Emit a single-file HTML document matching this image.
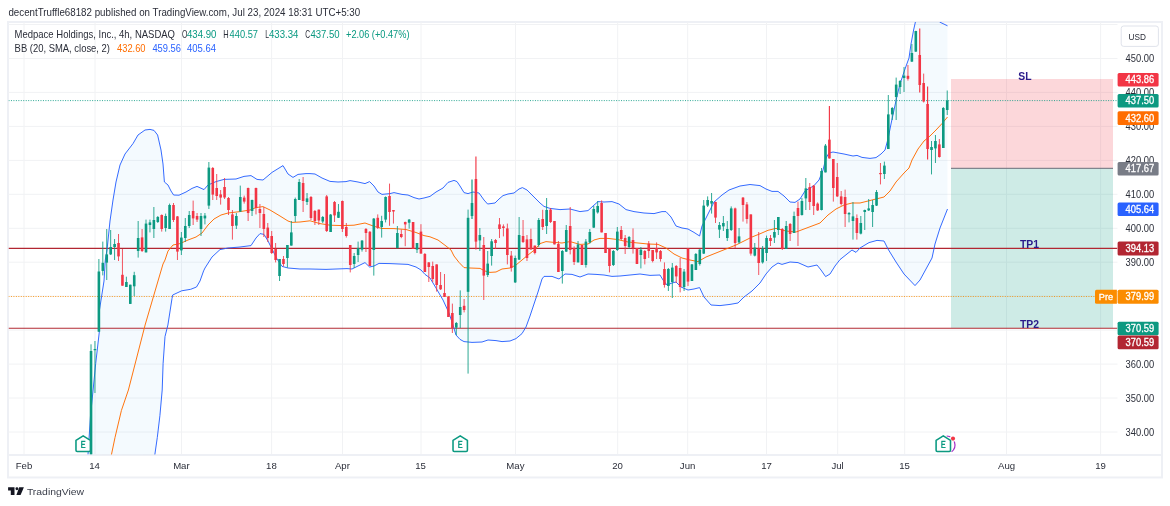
<!DOCTYPE html><html><head><meta charset="utf-8"><title>chart</title><style>
html,body{margin:0;padding:0;background:#fff;}body{width:1170px;height:506px;overflow:hidden;position:relative;font-family:"Liberation Sans",sans-serif;}svg{position:absolute;left:0;top:0;display:block;will-change:transform;}text{font-family:"Liberation Sans",sans-serif;}
</style></head><body>
<svg width="1170" height="506" viewBox="0 0 1170 506">
<defs><filter id="soft" x="0" y="0" width="100%" height="100%" filterUnits="objectBoundingBox"><feGaussianBlur stdDeviation="0.4"/></filter><clipPath id="pane"><rect x="8.5" y="22" width="1109" height="432.5"/></clipPath></defs>
<g filter="url(#soft)"><rect x="0" y="0" width="1170" height="506" fill="#fff"/>
<rect x="8" y="22" width="1154" height="455.45" fill="#fff" stroke="#eef0f5" stroke-width="2"/>
<line x1="24" y1="22" x2="24" y2="454.5" stroke="#f1f2f4" stroke-width="1"/>
<line x1="95" y1="22" x2="95" y2="454.5" stroke="#f1f2f4" stroke-width="1"/>
<line x1="181.5" y1="22" x2="181.5" y2="454.5" stroke="#f1f2f4" stroke-width="1"/>
<line x1="271.6" y1="22" x2="271.6" y2="454.5" stroke="#f1f2f4" stroke-width="1"/>
<line x1="342.5" y1="22" x2="342.5" y2="454.5" stroke="#f1f2f4" stroke-width="1"/>
<line x1="421" y1="22" x2="421" y2="454.5" stroke="#f1f2f4" stroke-width="1"/>
<line x1="515.5" y1="22" x2="515.5" y2="454.5" stroke="#f1f2f4" stroke-width="1"/>
<line x1="617.7" y1="22" x2="617.7" y2="454.5" stroke="#f1f2f4" stroke-width="1"/>
<line x1="687.7" y1="22" x2="687.7" y2="454.5" stroke="#f1f2f4" stroke-width="1"/>
<line x1="766.5" y1="22" x2="766.5" y2="454.5" stroke="#f1f2f4" stroke-width="1"/>
<line x1="837.7" y1="22" x2="837.7" y2="454.5" stroke="#f1f2f4" stroke-width="1"/>
<line x1="904.7" y1="22" x2="904.7" y2="454.5" stroke="#f1f2f4" stroke-width="1"/>
<line x1="1006.5" y1="22" x2="1006.5" y2="454.5" stroke="#f1f2f4" stroke-width="1"/>
<line x1="1100.6" y1="22" x2="1100.6" y2="454.5" stroke="#f1f2f4" stroke-width="1"/>
<line x1="8.5" y1="24.55" x2="1117.5" y2="24.55" stroke="#f1f2f4" stroke-width="1"/>
<line x1="8.5" y1="58.5" x2="1117.5" y2="58.5" stroke="#f1f2f4" stroke-width="1"/>
<line x1="8.5" y1="92.4" x2="1117.5" y2="92.4" stroke="#f1f2f4" stroke-width="1"/>
<line x1="8.5" y1="126.4" x2="1117.5" y2="126.4" stroke="#f1f2f4" stroke-width="1"/>
<line x1="8.5" y1="160.4" x2="1117.5" y2="160.4" stroke="#f1f2f4" stroke-width="1"/>
<line x1="8.5" y1="194.3" x2="1117.5" y2="194.3" stroke="#f1f2f4" stroke-width="1"/>
<line x1="8.5" y1="228.3" x2="1117.5" y2="228.3" stroke="#f1f2f4" stroke-width="1"/>
<line x1="8.5" y1="262.2" x2="1117.5" y2="262.2" stroke="#f1f2f4" stroke-width="1"/>
<line x1="8.5" y1="296.2" x2="1117.5" y2="296.2" stroke="#f1f2f4" stroke-width="1"/>
<line x1="8.5" y1="330.1" x2="1117.5" y2="330.1" stroke="#f1f2f4" stroke-width="1"/>
<line x1="8.5" y1="364.1" x2="1117.5" y2="364.1" stroke="#f1f2f4" stroke-width="1"/>
<line x1="8.5" y1="398" x2="1117.5" y2="398" stroke="#f1f2f4" stroke-width="1"/>
<line x1="8.5" y1="432" x2="1117.5" y2="432" stroke="#f1f2f4" stroke-width="1"/>
<line x1="9" y1="455.05" x2="1161" y2="455.05" stroke="#eef0f5" stroke-width="2.1"/>
<g clip-path="url(#pane)">
<polygon fill="#2196f3" fill-opacity="0.05" points="88,454.5 90.5,415.7 93.1,390 95.7,363.5 99.3,332 99.3,311 104,281 105.3,260 107,250 110,221 113,200 116,182 120,165 125,154 133,143.6 138,135 145,130 150,129.4 154,130.4 157.6,135 161,150 163,164 164.4,182 168,185 171,191 173.6,195 179,195.2 186,192 192,188.4 197,186.4 204,189.6 208,185 216,181.6 224,179.4 236,179 244,176.4 251,175.6 257,179.4 263,180 272,172.4 283,165.6 288,174 293,177.4 298,174.4 306,173.6 310,173.6 315,174 322,178 330,181.4 338,182 346,181.6 350,180.6 358,182 365,183.6 369.6,181.6 374,186 378,192 382,194.4 390,193.6 394,192.6 402,194.4 408,195 414,197.6 419,199 424,198 430,196.4 436,192 443,188 448,182.4 454,180.4 457,181.6 460,186 464,192.6 468,193.6 473,192 479,193 484,200 487.6,204 495,203 499,199 503,195.6 508,194 514,193 519,189 522.4,187.6 527,190 532,195 537,200 540,203 544,206.4 550,208.4 560,209.6 570,209 580,211.6 588,210.6 593,206 598,201.6 604,202 612,201.6 619,204 626,209.6 634,211.6 644,213 654,213.6 662,211.6 666,211.6 671,217 676,226 682,228 688,229 694,232.4 699.6,236 702,226 708,214 714,202 722,195 729,190 740,186 750,184.5 760,185.6 766,189 772,191.4 778,191.4 784,196 790,202 795,202.4 800,199 805,191 814,185.6 819,180 823,170 826,158 829,153 833,152 844,154 853,156 857,155.4 862,157.4 870,158.4 876,157.6 881,154 885,150 888,139 891,124 894,110 897,96 900,84 903,75 905,69 909,58 911,44 913.6,30 915.4,22 920,10 930,8 939.6,22 947.5,25.8 947.5,209 940,228 935,244 932,258 926,269 920,280 915,285.6 904,274 896,262 888,249 884,241 877,240.4 869,242.6 860,248 856,252.4 852,250 847,254 840,259.6 835,266 830,274 825.6,276.6 821,270 817,265 808,267 798,262.6 790,262 782,264.4 778,263 772,267 766,274 760,283 752,291 744,297 738,303 730,304.4 720,305.6 711,305 704,297 699.6,287.6 694,289 688,290 681,287 676,282 672,283 667,285 663,280 660,275 650,275.4 640,274 630,275 620,276 612,276.4 604,275 596,274.4 588,274 580,277 572,274.4 565,274 559,279 552,276.4 544,276.4 542,279 538,292 534,304 530,316 526,327 522,333.6 516,338.6 510,341 502,341.6 496,340.6 488,340 482,342 472,342.4 464,341.6 460,339.4 456,335 453,325 449,313 443,300 436,288 430,278 425,274.4 421,270 416,267 408,264.4 390,263.6 379,263.4 374,266 369.6,267 365,262.6 358,266 352,269 347,268.6 326,269.4 310,269 300,269 288,268 282,266.4 277,259 272,249 268,241 264,234.4 260,233.6 256,238 251,245.6 240,247 228,248 220,249.6 212,257 205,268 203.6,270.9 200,281 196.5,287 190.7,289.3 181.7,290.8 172.7,295 172,298.5 167.9,325 165,336.6 163.1,363.5 162.2,390 159.9,415.7 157.3,437.5 154.8,454.9"/>
<rect x="951" y="79" width="162" height="89.3" fill="#f23645" fill-opacity="0.2"/>
<rect x="951" y="168.3" width="162" height="159.8" fill="#089981" fill-opacity="0.2"/>
<line x1="951" y1="168.3" x2="1113" y2="168.3" stroke="#6a6d78" stroke-width="1"/>
<line x1="8.5" y1="248.4" x2="1117.5" y2="248.4" stroke="#b22833" stroke-width="1.1"/>
<line x1="8.5" y1="328.2" x2="1117.5" y2="328.2" stroke="#b22833" stroke-width="1.1"/>
<line x1="8.5" y1="100.6" x2="1117.5" y2="100.6" stroke="#089981" stroke-opacity="0.85" stroke-width="1" stroke-dasharray="1 1.46"/>
<line x1="8.5" y1="296.5" x2="1095" y2="296.5" stroke="#fb8c00" stroke-opacity="0.85" stroke-width="1" stroke-dasharray="1 1.46"/>
<polyline fill="none" stroke="#2962ff" stroke-width="0.95" stroke-linejoin="round" points="88,454.5 90.5,415.7 93.1,390 95.7,363.5 99.3,332 99.3,311 104,281 105.3,260 107,250 110,221 113,200 116,182 120,165 125,154 133,143.6 138,135 145,130 150,129.4 154,130.4 157.6,135 161,150 163,164 164.4,182 168,185 171,191 173.6,195 179,195.2 186,192 192,188.4 197,186.4 204,189.6 208,185 216,181.6 224,179.4 236,179 244,176.4 251,175.6 257,179.4 263,180 272,172.4 283,165.6 288,174 293,177.4 298,174.4 306,173.6 310,173.6 315,174 322,178 330,181.4 338,182 346,181.6 350,180.6 358,182 365,183.6 369.6,181.6 374,186 378,192 382,194.4 390,193.6 394,192.6 402,194.4 408,195 414,197.6 419,199 424,198 430,196.4 436,192 443,188 448,182.4 454,180.4 457,181.6 460,186 464,192.6 468,193.6 473,192 479,193 484,200 487.6,204 495,203 499,199 503,195.6 508,194 514,193 519,189 522.4,187.6 527,190 532,195 537,200 540,203 544,206.4 550,208.4 560,209.6 570,209 580,211.6 588,210.6 593,206 598,201.6 604,202 612,201.6 619,204 626,209.6 634,211.6 644,213 654,213.6 662,211.6 666,211.6 671,217 676,226 682,228 688,229 694,232.4 699.6,236 702,226 708,214 714,202 722,195 729,190 740,186 750,184.5 760,185.6 766,189 772,191.4 778,191.4 784,196 790,202 795,202.4 800,199 805,191 814,185.6 819,180 823,170 826,158 829,153 833,152 844,154 853,156 857,155.4 862,157.4 870,158.4 876,157.6 881,154 885,150 888,139 891,124 894,110 897,96 900,84 903,75 905,69 909,58 911,44 913.6,30 915.4,22 920,10 930,8 939.6,22 947.5,25.8"/>
<polyline fill="none" stroke="#2962ff" stroke-width="0.95" stroke-linejoin="round" points="154.8,454.9 157.3,437.5 159.9,415.7 162.2,390 163.1,363.5 165,336.6 167.9,325 172,298.5 172.7,295 181.7,290.8 190.7,289.3 196.5,287 200,281 203.6,270.9 205,268 212,257 220,249.6 228,248 240,247 251,245.6 256,238 260,233.6 264,234.4 268,241 272,249 277,259 282,266.4 288,268 300,269 310,269 326,269.4 347,268.6 352,269 358,266 365,262.6 369.6,267 374,266 379,263.4 390,263.6 408,264.4 416,267 421,270 425,274.4 430,278 436,288 443,300 449,313 453,325 456,335 460,339.4 464,341.6 472,342.4 482,342 488,340 496,340.6 502,341.6 510,341 516,338.6 522,333.6 526,327 530,316 534,304 538,292 542,279 544,276.4 552,276.4 559,279 565,274 572,274.4 580,277 588,274 596,274.4 604,275 612,276.4 620,276 630,275 640,274 650,275.4 660,275 663,280 667,285 672,283 676,282 681,287 688,290 694,289 699.6,287.6 704,297 711,305 720,305.6 730,304.4 738,303 744,297 752,291 760,283 766,274 772,267 778,263 782,264.4 790,262 798,262.6 808,267 817,265 821,270 825.6,276.6 830,274 835,266 840,259.6 847,254 852,250 856,252.4 860,248 869,242.6 877,240.4 884,241 888,249 896,262 904,274 915,285.6 920,280 926,269 932,258 935,244 940,228 947.5,209"/>
<polyline fill="none" stroke="#ff6d00" stroke-width="0.95" stroke-linejoin="round" points="111.4,454.9 115,437.5 121.4,410.5 128.4,390 145.1,325 158,281 163,264 165,260 168,251 173,245 180,243.6 188,240 196,237 202,233 208,225 214,219 221,215 228,213 240,211.6 250,210 256,207.6 263,206.6 270,210 280,216 288,221 292,222.4 300,222 310,220.8 320,223.6 330,225.2 342,225.6 354,225.2 365,223 374,226.3 382,228.5 394,228.6 406,229.5 416,232.5 424,235.6 430,236.8 438,240 446,246 451,250 454,256 459,262.4 464,267.6 470,268 480,268.4 485,271 490,272.4 496,272 502,269 510,268 516,265 522,260 528,255 535,249.5 540,243.6 546,241.6 554,242.4 562,243 570,241.6 580,244.4 588,244 594,240 600,238.4 608,238.4 618,239.6 628,242 638,243 648,244 658,244.4 666,248 674,254 682,258 690,260 698,261.6 706,257 716,253 726,249 736,245 744,241 752,237 760,233.8 768,230.3 776,228.4 786,231 796,232 804,229 812,226 820,223 828,215 836,209 844,205 852,203 860,203 868,201 876,199 884,197 890,191 896,182 904,173 909,168 912,160 918,149 924,141 930,136 936,130 942,123.6 947.5,117"/>
<line x1="91.03" y1="344.3" x2="91.03" y2="454.5" stroke="#089981" stroke-width="0.85"/>
<rect x="89.73" y="351.0" width="2.6" height="103.5" fill="#089981"/>
<line x1="94.96" y1="341.0" x2="94.96" y2="393.0" stroke="#089981" stroke-width="0.85"/>
<rect x="93.66" y="349.0" width="2.6" height="1.2" fill="#089981"/>
<line x1="98.89" y1="259.0" x2="98.89" y2="331.7" stroke="#089981" stroke-width="0.85"/>
<rect x="97.59" y="271.5" width="2.6" height="60.2" fill="#089981"/>
<line x1="102.81" y1="241.6" x2="102.81" y2="275.4" stroke="#089981" stroke-width="0.85"/>
<rect x="101.51" y="262.8" width="2.6" height="8.1" fill="#089981"/>
<line x1="106.74" y1="229.0" x2="106.74" y2="280.0" stroke="#089981" stroke-width="0.85"/>
<rect x="105.44" y="254.4" width="2.6" height="8.2" fill="#089981"/>
<line x1="110.67" y1="230.0" x2="110.67" y2="255.0" stroke="#089981" stroke-width="0.85"/>
<rect x="109.37" y="247.0" width="2.6" height="7.4" fill="#089981"/>
<line x1="114.59" y1="239.0" x2="114.59" y2="260.0" stroke="#089981" stroke-width="0.85"/>
<rect x="113.30" y="244.0" width="2.6" height="3.0" fill="#089981"/>
<line x1="118.52" y1="234.0" x2="118.52" y2="261.0" stroke="#f23645" stroke-width="0.85"/>
<rect x="117.22" y="243.0" width="2.6" height="13.4" fill="#f23645"/>
<line x1="122.45" y1="249.0" x2="122.45" y2="285.7" stroke="#f23645" stroke-width="0.85"/>
<rect x="121.15" y="274.8" width="2.6" height="10.9" fill="#f23645"/>
<line x1="126.38" y1="276.7" x2="126.38" y2="287.0" stroke="#089981" stroke-width="0.85"/>
<rect x="125.08" y="282.0" width="2.6" height="5.0" fill="#089981"/>
<line x1="130.31" y1="284.7" x2="130.31" y2="303.9" stroke="#089981" stroke-width="0.85"/>
<rect x="129.00" y="284.7" width="2.6" height="19.2" fill="#089981"/>
<line x1="134.23" y1="271.8" x2="134.23" y2="296.0" stroke="#089981" stroke-width="0.85"/>
<rect x="132.93" y="275.2" width="2.6" height="11.1" fill="#089981"/>
<line x1="138.16" y1="221.0" x2="138.16" y2="257.6" stroke="#089981" stroke-width="0.85"/>
<rect x="136.86" y="238.0" width="2.6" height="13.0" fill="#089981"/>
<line x1="142.09" y1="229.0" x2="142.09" y2="252.0" stroke="#f23645" stroke-width="0.85"/>
<rect x="140.79" y="237.4" width="2.6" height="13.6" fill="#f23645"/>
<line x1="146.01" y1="219.6" x2="146.01" y2="252.4" stroke="#089981" stroke-width="0.85"/>
<rect x="144.71" y="223.6" width="2.6" height="28.8" fill="#089981"/>
<line x1="149.94" y1="219.6" x2="149.94" y2="232.4" stroke="#089981" stroke-width="0.85"/>
<rect x="148.64" y="222.4" width="2.6" height="2.6" fill="#089981"/>
<line x1="153.87" y1="207.0" x2="153.87" y2="238.0" stroke="#089981" stroke-width="0.85"/>
<rect x="152.57" y="220.0" width="2.6" height="9.0" fill="#089981"/>
<line x1="157.80" y1="216.0" x2="157.80" y2="223.0" stroke="#089981" stroke-width="0.85"/>
<rect x="156.50" y="217.0" width="2.6" height="5.0" fill="#089981"/>
<line x1="161.73" y1="214.4" x2="161.73" y2="231.6" stroke="#f23645" stroke-width="0.85"/>
<rect x="160.43" y="215.0" width="2.6" height="14.0" fill="#f23645"/>
<line x1="165.65" y1="213.6" x2="165.65" y2="231.6" stroke="#089981" stroke-width="0.85"/>
<rect x="164.35" y="216.0" width="2.6" height="12.0" fill="#089981"/>
<line x1="169.58" y1="203.6" x2="169.58" y2="229.0" stroke="#089981" stroke-width="0.85"/>
<rect x="168.28" y="205.0" width="2.6" height="24.0" fill="#089981"/>
<line x1="173.51" y1="203.0" x2="173.51" y2="222.0" stroke="#f23645" stroke-width="0.85"/>
<rect x="172.21" y="205.0" width="2.6" height="15.0" fill="#f23645"/>
<line x1="177.44" y1="216.0" x2="177.44" y2="260.0" stroke="#f23645" stroke-width="0.85"/>
<rect x="176.13" y="216.4" width="2.6" height="35.2" fill="#f23645"/>
<line x1="181.36" y1="232.0" x2="181.36" y2="255.0" stroke="#089981" stroke-width="0.85"/>
<rect x="180.06" y="237.6" width="2.6" height="12.8" fill="#089981"/>
<line x1="185.29" y1="218.0" x2="185.29" y2="242.0" stroke="#089981" stroke-width="0.85"/>
<rect x="183.99" y="226.0" width="2.6" height="12.0" fill="#089981"/>
<line x1="189.22" y1="211.0" x2="189.22" y2="228.0" stroke="#089981" stroke-width="0.85"/>
<rect x="187.92" y="215.0" width="2.6" height="11.0" fill="#089981"/>
<line x1="193.15" y1="200.6" x2="193.15" y2="225.0" stroke="#f23645" stroke-width="0.85"/>
<rect x="191.84" y="211.0" width="2.6" height="7.4" fill="#f23645"/>
<line x1="197.07" y1="213.0" x2="197.07" y2="222.0" stroke="#f23645" stroke-width="0.85"/>
<rect x="195.77" y="216.0" width="2.6" height="3.6" fill="#f23645"/>
<line x1="201.00" y1="213.0" x2="201.00" y2="236.0" stroke="#089981" stroke-width="0.85"/>
<rect x="199.70" y="216.0" width="2.6" height="13.0" fill="#089981"/>
<line x1="204.93" y1="213.0" x2="204.93" y2="224.4" stroke="#089981" stroke-width="0.85"/>
<rect x="203.63" y="215.6" width="2.6" height="2.8" fill="#089981"/>
<line x1="208.86" y1="162.0" x2="208.86" y2="209.0" stroke="#089981" stroke-width="0.85"/>
<rect x="207.56" y="167.6" width="2.6" height="38.0" fill="#089981"/>
<line x1="212.78" y1="167.0" x2="212.78" y2="200.0" stroke="#f23645" stroke-width="0.85"/>
<rect x="211.48" y="168.0" width="2.6" height="26.6" fill="#f23645"/>
<line x1="216.71" y1="174.0" x2="216.71" y2="200.0" stroke="#f23645" stroke-width="0.85"/>
<rect x="215.41" y="188.0" width="2.6" height="8.0" fill="#f23645"/>
<line x1="220.64" y1="190.0" x2="220.64" y2="204.6" stroke="#f23645" stroke-width="0.85"/>
<rect x="219.34" y="194.4" width="2.6" height="3.2" fill="#f23645"/>
<line x1="224.56" y1="178.0" x2="224.56" y2="199.0" stroke="#f23645" stroke-width="0.85"/>
<rect x="223.26" y="187.0" width="2.6" height="10.5" fill="#f23645"/>
<line x1="228.49" y1="197.0" x2="228.49" y2="215.0" stroke="#f23645" stroke-width="0.85"/>
<rect x="227.19" y="198.0" width="2.6" height="12.0" fill="#f23645"/>
<line x1="232.42" y1="210.0" x2="232.42" y2="239.6" stroke="#f23645" stroke-width="0.85"/>
<rect x="231.12" y="214.4" width="2.6" height="11.6" fill="#f23645"/>
<line x1="236.35" y1="213.0" x2="236.35" y2="229.0" stroke="#089981" stroke-width="0.85"/>
<rect x="235.05" y="216.0" width="2.6" height="9.6" fill="#089981"/>
<line x1="240.28" y1="185.6" x2="240.28" y2="212.0" stroke="#089981" stroke-width="0.85"/>
<rect x="238.97" y="197.0" width="2.6" height="14.6" fill="#089981"/>
<line x1="244.20" y1="195.6" x2="244.20" y2="203.6" stroke="#f23645" stroke-width="0.85"/>
<rect x="242.90" y="197.6" width="2.6" height="4.0" fill="#f23645"/>
<line x1="248.13" y1="187.6" x2="248.13" y2="221.0" stroke="#f23645" stroke-width="0.85"/>
<rect x="246.83" y="188.0" width="2.6" height="25.0" fill="#f23645"/>
<line x1="252.06" y1="199.6" x2="252.06" y2="216.0" stroke="#089981" stroke-width="0.85"/>
<rect x="250.76" y="200.0" width="2.6" height="11.0" fill="#089981"/>
<line x1="255.99" y1="187.6" x2="255.99" y2="214.4" stroke="#f23645" stroke-width="0.85"/>
<rect x="254.69" y="188.0" width="2.6" height="20.0" fill="#f23645"/>
<line x1="259.91" y1="204.0" x2="259.91" y2="228.0" stroke="#f23645" stroke-width="0.85"/>
<rect x="258.61" y="209.0" width="2.6" height="4.0" fill="#f23645"/>
<line x1="263.84" y1="207.0" x2="263.84" y2="237.0" stroke="#f23645" stroke-width="0.85"/>
<rect x="262.54" y="214.0" width="2.6" height="15.0" fill="#f23645"/>
<line x1="267.77" y1="223.0" x2="267.77" y2="242.0" stroke="#f23645" stroke-width="0.85"/>
<rect x="266.47" y="227.6" width="2.6" height="10.4" fill="#f23645"/>
<line x1="271.70" y1="231.0" x2="271.70" y2="254.0" stroke="#f23645" stroke-width="0.85"/>
<rect x="270.40" y="236.0" width="2.6" height="17.0" fill="#f23645"/>
<line x1="275.62" y1="243.0" x2="275.62" y2="262.4" stroke="#f23645" stroke-width="0.85"/>
<rect x="274.32" y="249.0" width="2.6" height="11.0" fill="#f23645"/>
<line x1="279.55" y1="259.0" x2="279.55" y2="281.0" stroke="#089981" stroke-width="0.85"/>
<rect x="278.25" y="259.0" width="2.6" height="17.0" fill="#089981"/>
<line x1="283.48" y1="256.0" x2="283.48" y2="266.4" stroke="#f23645" stroke-width="0.85"/>
<rect x="282.18" y="259.0" width="2.6" height="5.0" fill="#f23645"/>
<line x1="287.40" y1="245.0" x2="287.40" y2="267.6" stroke="#089981" stroke-width="0.85"/>
<rect x="286.10" y="245.0" width="2.6" height="13.0" fill="#089981"/>
<line x1="291.33" y1="221.0" x2="291.33" y2="245.6" stroke="#089981" stroke-width="0.85"/>
<rect x="290.03" y="232.4" width="2.6" height="13.2" fill="#089981"/>
<line x1="295.26" y1="197.6" x2="295.26" y2="222.0" stroke="#089981" stroke-width="0.85"/>
<rect x="293.96" y="199.0" width="2.6" height="17.0" fill="#089981"/>
<line x1="299.19" y1="179.0" x2="299.19" y2="200.0" stroke="#089981" stroke-width="0.85"/>
<rect x="297.89" y="182.0" width="2.6" height="18.0" fill="#089981"/>
<line x1="303.12" y1="177.0" x2="303.12" y2="212.0" stroke="#f23645" stroke-width="0.85"/>
<rect x="301.81" y="183.0" width="2.6" height="18.0" fill="#f23645"/>
<line x1="307.04" y1="193.0" x2="307.04" y2="205.0" stroke="#089981" stroke-width="0.85"/>
<rect x="305.74" y="198.4" width="2.6" height="3.6" fill="#089981"/>
<line x1="310.97" y1="196.0" x2="310.97" y2="220.0" stroke="#f23645" stroke-width="0.85"/>
<rect x="309.67" y="197.0" width="2.6" height="21.0" fill="#f23645"/>
<line x1="314.90" y1="210.0" x2="314.90" y2="225.0" stroke="#f23645" stroke-width="0.85"/>
<rect x="313.60" y="211.0" width="2.6" height="10.0" fill="#f23645"/>
<line x1="318.83" y1="209.6" x2="318.83" y2="225.0" stroke="#f23645" stroke-width="0.85"/>
<rect x="317.53" y="209.6" width="2.6" height="10.9" fill="#f23645"/>
<line x1="322.75" y1="216.0" x2="322.75" y2="223.0" stroke="#089981" stroke-width="0.85"/>
<rect x="321.45" y="217.0" width="2.6" height="4.5" fill="#089981"/>
<line x1="326.68" y1="195.0" x2="326.68" y2="232.0" stroke="#f23645" stroke-width="0.85"/>
<rect x="325.38" y="196.4" width="2.6" height="34.6" fill="#f23645"/>
<line x1="330.61" y1="214.0" x2="330.61" y2="232.0" stroke="#089981" stroke-width="0.85"/>
<rect x="329.31" y="214.6" width="2.6" height="17.4" fill="#089981"/>
<line x1="334.54" y1="201.0" x2="334.54" y2="222.0" stroke="#f23645" stroke-width="0.85"/>
<rect x="333.24" y="202.0" width="2.6" height="13.4" fill="#f23645"/>
<line x1="338.46" y1="204.0" x2="338.46" y2="218.0" stroke="#089981" stroke-width="0.85"/>
<rect x="337.16" y="211.8" width="2.6" height="6.0" fill="#089981"/>
<line x1="342.39" y1="200.5" x2="342.39" y2="232.0" stroke="#f23645" stroke-width="0.85"/>
<rect x="341.09" y="201.0" width="2.6" height="28.0" fill="#f23645"/>
<line x1="346.32" y1="223.0" x2="346.32" y2="237.6" stroke="#f23645" stroke-width="0.85"/>
<rect x="345.02" y="227.0" width="2.6" height="9.0" fill="#f23645"/>
<line x1="350.25" y1="245.0" x2="350.25" y2="272.4" stroke="#f23645" stroke-width="0.85"/>
<rect x="348.94" y="245.0" width="2.6" height="20.0" fill="#f23645"/>
<line x1="354.17" y1="253.0" x2="354.17" y2="268.0" stroke="#089981" stroke-width="0.85"/>
<rect x="352.87" y="256.0" width="2.6" height="8.0" fill="#089981"/>
<line x1="358.10" y1="241.6" x2="358.10" y2="262.0" stroke="#089981" stroke-width="0.85"/>
<rect x="356.80" y="248.0" width="2.6" height="7.0" fill="#089981"/>
<line x1="362.03" y1="240.0" x2="362.03" y2="251.6" stroke="#089981" stroke-width="0.85"/>
<rect x="360.73" y="240.6" width="2.6" height="9.0" fill="#089981"/>
<line x1="365.96" y1="228.0" x2="365.96" y2="252.0" stroke="#f23645" stroke-width="0.85"/>
<rect x="364.66" y="229.0" width="2.6" height="4.0" fill="#f23645"/>
<line x1="369.88" y1="231.0" x2="369.88" y2="266.0" stroke="#f23645" stroke-width="0.85"/>
<rect x="368.58" y="231.8" width="2.6" height="34.2" fill="#f23645"/>
<line x1="373.81" y1="218.0" x2="373.81" y2="275.6" stroke="#089981" stroke-width="0.85"/>
<rect x="372.51" y="218.6" width="2.6" height="31.4" fill="#089981"/>
<line x1="377.74" y1="214.4" x2="377.74" y2="229.0" stroke="#f23645" stroke-width="0.85"/>
<rect x="376.44" y="217.8" width="2.6" height="10.0" fill="#f23645"/>
<line x1="381.66" y1="215.8" x2="381.66" y2="237.6" stroke="#089981" stroke-width="0.85"/>
<rect x="380.36" y="221.0" width="2.6" height="6.0" fill="#089981"/>
<line x1="385.59" y1="196.4" x2="385.59" y2="222.4" stroke="#089981" stroke-width="0.85"/>
<rect x="384.29" y="197.0" width="2.6" height="22.6" fill="#089981"/>
<line x1="389.52" y1="183.6" x2="389.52" y2="225.8" stroke="#f23645" stroke-width="0.85"/>
<rect x="388.22" y="196.0" width="2.6" height="16.0" fill="#f23645"/>
<line x1="393.45" y1="210.0" x2="393.45" y2="223.6" stroke="#f23645" stroke-width="0.85"/>
<rect x="392.15" y="210.0" width="2.6" height="1.5" fill="#f23645"/>
<line x1="397.38" y1="226.0" x2="397.38" y2="248.2" stroke="#089981" stroke-width="0.85"/>
<rect x="396.07" y="233.0" width="2.6" height="15.2" fill="#089981"/>
<line x1="401.30" y1="229.5" x2="401.30" y2="238.2" stroke="#f23645" stroke-width="0.85"/>
<rect x="400.00" y="234.0" width="2.6" height="3.0" fill="#f23645"/>
<line x1="405.23" y1="221.6" x2="405.23" y2="246.2" stroke="#f23645" stroke-width="0.85"/>
<rect x="403.93" y="222.0" width="2.6" height="2.4" fill="#f23645"/>
<line x1="409.16" y1="219.0" x2="409.16" y2="228.7" stroke="#089981" stroke-width="0.85"/>
<rect x="407.86" y="219.6" width="2.6" height="3.1" fill="#089981"/>
<line x1="413.09" y1="222.0" x2="413.09" y2="249.0" stroke="#f23645" stroke-width="0.85"/>
<rect x="411.79" y="222.0" width="2.6" height="27.0" fill="#f23645"/>
<line x1="417.01" y1="243.0" x2="417.01" y2="253.0" stroke="#089981" stroke-width="0.85"/>
<rect x="415.71" y="243.0" width="2.6" height="6.6" fill="#089981"/>
<line x1="420.94" y1="224.2" x2="420.94" y2="253.6" stroke="#f23645" stroke-width="0.85"/>
<rect x="419.64" y="231.6" width="2.6" height="22.0" fill="#f23645"/>
<line x1="424.87" y1="253.0" x2="424.87" y2="272.0" stroke="#f23645" stroke-width="0.85"/>
<rect x="423.57" y="254.0" width="2.6" height="18.0" fill="#f23645"/>
<line x1="428.80" y1="262.0" x2="428.80" y2="282.0" stroke="#f23645" stroke-width="0.85"/>
<rect x="427.50" y="262.4" width="2.6" height="4.6" fill="#f23645"/>
<line x1="432.72" y1="261.6" x2="432.72" y2="282.0" stroke="#f23645" stroke-width="0.85"/>
<rect x="431.42" y="266.0" width="2.6" height="13.0" fill="#f23645"/>
<line x1="436.65" y1="264.4" x2="436.65" y2="291.6" stroke="#f23645" stroke-width="0.85"/>
<rect x="435.35" y="264.4" width="2.6" height="20.6" fill="#f23645"/>
<line x1="440.58" y1="272.0" x2="440.58" y2="290.0" stroke="#f23645" stroke-width="0.85"/>
<rect x="439.28" y="285.0" width="2.6" height="4.3" fill="#f23645"/>
<line x1="444.50" y1="274.0" x2="444.50" y2="297.0" stroke="#f23645" stroke-width="0.85"/>
<rect x="443.20" y="293.0" width="2.6" height="4.0" fill="#f23645"/>
<line x1="448.43" y1="296.0" x2="448.43" y2="317.0" stroke="#f23645" stroke-width="0.85"/>
<rect x="447.13" y="296.7" width="2.6" height="20.3" fill="#f23645"/>
<line x1="452.36" y1="303.6" x2="452.36" y2="333.0" stroke="#f23645" stroke-width="0.85"/>
<rect x="451.06" y="313.0" width="2.6" height="15.0" fill="#f23645"/>
<line x1="456.29" y1="322.0" x2="456.29" y2="335.0" stroke="#089981" stroke-width="0.85"/>
<rect x="454.99" y="323.0" width="2.6" height="4.6" fill="#089981"/>
<line x1="460.22" y1="290.4" x2="460.22" y2="328.0" stroke="#089981" stroke-width="0.85"/>
<rect x="458.92" y="307.0" width="2.6" height="8.0" fill="#089981"/>
<line x1="464.14" y1="299.0" x2="464.14" y2="312.4" stroke="#f23645" stroke-width="0.85"/>
<rect x="462.84" y="305.8" width="2.6" height="4.2" fill="#f23645"/>
<line x1="468.07" y1="209.6" x2="468.07" y2="373.6" stroke="#089981" stroke-width="0.85"/>
<rect x="466.77" y="217.8" width="2.6" height="74.0" fill="#089981"/>
<line x1="472.00" y1="179.6" x2="472.00" y2="219.0" stroke="#089981" stroke-width="1.15"/>
<rect x="470.70" y="203.0" width="2.6" height="13.0" fill="#089981"/>
<line x1="475.93" y1="156.4" x2="475.93" y2="249.4" stroke="#f23645" stroke-width="1.15"/>
<rect x="474.63" y="179.0" width="2.6" height="62.6" fill="#f23645"/>
<line x1="479.85" y1="228.0" x2="479.85" y2="251.0" stroke="#089981" stroke-width="0.85"/>
<rect x="478.55" y="235.0" width="2.6" height="5.4" fill="#089981"/>
<line x1="483.78" y1="237.0" x2="483.78" y2="300.0" stroke="#f23645" stroke-width="0.85"/>
<rect x="482.48" y="245.0" width="2.6" height="30.6" fill="#f23645"/>
<line x1="487.71" y1="251.0" x2="487.71" y2="277.0" stroke="#089981" stroke-width="0.85"/>
<rect x="486.41" y="263.6" width="2.6" height="11.4" fill="#089981"/>
<line x1="491.63" y1="239.0" x2="491.63" y2="265.6" stroke="#089981" stroke-width="0.85"/>
<rect x="490.33" y="241.3" width="2.6" height="14.7" fill="#089981"/>
<line x1="495.56" y1="239.0" x2="495.56" y2="249.0" stroke="#f23645" stroke-width="0.85"/>
<rect x="494.26" y="240.0" width="2.6" height="3.0" fill="#f23645"/>
<line x1="499.49" y1="218.0" x2="499.49" y2="238.0" stroke="#f23645" stroke-width="0.85"/>
<rect x="498.19" y="224.4" width="2.6" height="4.6" fill="#f23645"/>
<line x1="503.42" y1="224.4" x2="503.42" y2="236.4" stroke="#f23645" stroke-width="0.85"/>
<rect x="502.12" y="226.4" width="2.6" height="1.6" fill="#f23645"/>
<line x1="507.35" y1="223.6" x2="507.35" y2="264.4" stroke="#f23645" stroke-width="0.85"/>
<rect x="506.05" y="228.4" width="2.6" height="26.6" fill="#f23645"/>
<line x1="511.27" y1="251.0" x2="511.27" y2="271.6" stroke="#f23645" stroke-width="0.85"/>
<rect x="509.97" y="255.6" width="2.6" height="12.4" fill="#f23645"/>
<line x1="515.20" y1="255.6" x2="515.20" y2="283.0" stroke="#089981" stroke-width="0.85"/>
<rect x="513.90" y="258.0" width="2.6" height="24.4" fill="#089981"/>
<line x1="519.13" y1="217.0" x2="519.13" y2="260.0" stroke="#089981" stroke-width="0.85"/>
<rect x="517.83" y="235.0" width="2.6" height="24.6" fill="#089981"/>
<line x1="523.06" y1="220.0" x2="523.06" y2="243.0" stroke="#f23645" stroke-width="0.85"/>
<rect x="521.76" y="236.0" width="2.6" height="6.0" fill="#f23645"/>
<line x1="526.98" y1="235.0" x2="526.98" y2="261.0" stroke="#f23645" stroke-width="0.85"/>
<rect x="525.68" y="239.4" width="2.6" height="18.6" fill="#f23645"/>
<line x1="530.91" y1="228.7" x2="530.91" y2="249.5" stroke="#f23645" stroke-width="0.85"/>
<rect x="529.61" y="239.0" width="2.6" height="10.5" fill="#f23645"/>
<line x1="534.84" y1="245.6" x2="534.84" y2="254.4" stroke="#f23645" stroke-width="0.85"/>
<rect x="533.54" y="245.6" width="2.6" height="7.4" fill="#f23645"/>
<line x1="538.76" y1="218.0" x2="538.76" y2="247.0" stroke="#089981" stroke-width="0.85"/>
<rect x="537.47" y="220.0" width="2.6" height="25.0" fill="#089981"/>
<line x1="542.69" y1="209.8" x2="542.69" y2="230.0" stroke="#f23645" stroke-width="0.85"/>
<rect x="541.39" y="219.0" width="2.6" height="8.0" fill="#f23645"/>
<line x1="546.62" y1="198.0" x2="546.62" y2="234.0" stroke="#089981" stroke-width="0.85"/>
<rect x="545.32" y="210.0" width="2.6" height="16.0" fill="#089981"/>
<line x1="550.55" y1="208.0" x2="550.55" y2="223.0" stroke="#f23645" stroke-width="0.85"/>
<rect x="549.25" y="209.6" width="2.6" height="12.4" fill="#f23645"/>
<line x1="554.48" y1="221.0" x2="554.48" y2="244.4" stroke="#f23645" stroke-width="0.85"/>
<rect x="553.18" y="221.0" width="2.6" height="23.4" fill="#f23645"/>
<line x1="558.40" y1="241.0" x2="558.40" y2="272.0" stroke="#f23645" stroke-width="0.85"/>
<rect x="557.10" y="244.0" width="2.6" height="28.0" fill="#f23645"/>
<line x1="562.33" y1="250.0" x2="562.33" y2="283.6" stroke="#089981" stroke-width="0.85"/>
<rect x="561.03" y="251.0" width="2.6" height="20.0" fill="#089981"/>
<line x1="566.26" y1="225.0" x2="566.26" y2="252.0" stroke="#089981" stroke-width="0.85"/>
<rect x="564.96" y="230.0" width="2.6" height="21.6" fill="#089981"/>
<line x1="570.19" y1="207.0" x2="570.19" y2="254.4" stroke="#f23645" stroke-width="0.85"/>
<rect x="568.89" y="226.0" width="2.6" height="24.0" fill="#f23645"/>
<line x1="574.11" y1="246.4" x2="574.11" y2="265.0" stroke="#f23645" stroke-width="0.85"/>
<rect x="572.81" y="248.0" width="2.6" height="14.0" fill="#f23645"/>
<line x1="578.04" y1="241.0" x2="578.04" y2="262.4" stroke="#089981" stroke-width="0.85"/>
<rect x="576.74" y="244.4" width="2.6" height="18.0" fill="#089981"/>
<line x1="581.97" y1="245.0" x2="581.97" y2="265.0" stroke="#f23645" stroke-width="0.85"/>
<rect x="580.67" y="245.0" width="2.6" height="20.0" fill="#f23645"/>
<line x1="585.89" y1="239.0" x2="585.89" y2="267.6" stroke="#089981" stroke-width="0.85"/>
<rect x="584.60" y="241.6" width="2.6" height="23.4" fill="#089981"/>
<line x1="589.82" y1="229.0" x2="589.82" y2="243.6" stroke="#089981" stroke-width="0.85"/>
<rect x="588.52" y="232.0" width="2.6" height="10.4" fill="#089981"/>
<line x1="593.75" y1="206.0" x2="593.75" y2="228.0" stroke="#089981" stroke-width="0.85"/>
<rect x="592.45" y="209.0" width="2.6" height="18.6" fill="#089981"/>
<line x1="597.68" y1="201.0" x2="597.68" y2="213.6" stroke="#089981" stroke-width="0.85"/>
<rect x="596.38" y="206.0" width="2.6" height="6.4" fill="#089981"/>
<line x1="601.61" y1="200.4" x2="601.61" y2="232.4" stroke="#f23645" stroke-width="0.85"/>
<rect x="600.31" y="203.0" width="2.6" height="29.4" fill="#f23645"/>
<line x1="605.53" y1="233.0" x2="605.53" y2="253.0" stroke="#f23645" stroke-width="0.85"/>
<rect x="604.23" y="233.0" width="2.6" height="20.0" fill="#f23645"/>
<line x1="609.46" y1="248.4" x2="609.46" y2="272.4" stroke="#f23645" stroke-width="0.85"/>
<rect x="608.16" y="248.4" width="2.6" height="17.6" fill="#f23645"/>
<line x1="613.39" y1="250.0" x2="613.39" y2="266.0" stroke="#089981" stroke-width="0.85"/>
<rect x="612.09" y="251.0" width="2.6" height="14.0" fill="#089981"/>
<line x1="617.32" y1="227.0" x2="617.32" y2="251.0" stroke="#089981" stroke-width="0.85"/>
<rect x="616.02" y="231.6" width="2.6" height="18.4" fill="#089981"/>
<line x1="621.24" y1="226.0" x2="621.24" y2="240.0" stroke="#f23645" stroke-width="0.85"/>
<rect x="619.94" y="230.0" width="2.6" height="9.0" fill="#f23645"/>
<line x1="625.17" y1="235.0" x2="625.17" y2="254.0" stroke="#f23645" stroke-width="0.85"/>
<rect x="623.87" y="238.0" width="2.6" height="8.0" fill="#f23645"/>
<line x1="629.10" y1="236.0" x2="629.10" y2="249.0" stroke="#089981" stroke-width="0.85"/>
<rect x="627.80" y="237.0" width="2.6" height="10.0" fill="#089981"/>
<line x1="633.02" y1="228.4" x2="633.02" y2="253.6" stroke="#f23645" stroke-width="0.85"/>
<rect x="631.73" y="240.0" width="2.6" height="8.0" fill="#f23645"/>
<line x1="636.95" y1="248.0" x2="636.95" y2="264.0" stroke="#f23645" stroke-width="0.85"/>
<rect x="635.65" y="248.0" width="2.6" height="16.0" fill="#f23645"/>
<line x1="640.88" y1="247.0" x2="640.88" y2="268.4" stroke="#089981" stroke-width="0.85"/>
<rect x="639.58" y="249.6" width="2.6" height="5.4" fill="#089981"/>
<line x1="644.81" y1="250.0" x2="644.81" y2="264.4" stroke="#f23645" stroke-width="0.85"/>
<rect x="643.51" y="251.0" width="2.6" height="8.0" fill="#f23645"/>
<line x1="648.74" y1="241.0" x2="648.74" y2="258.0" stroke="#f23645" stroke-width="0.85"/>
<rect x="647.44" y="243.6" width="2.6" height="7.4" fill="#f23645"/>
<line x1="652.66" y1="250.0" x2="652.66" y2="262.4" stroke="#f23645" stroke-width="0.85"/>
<rect x="651.36" y="250.0" width="2.6" height="11.0" fill="#f23645"/>
<line x1="656.59" y1="242.4" x2="656.59" y2="259.0" stroke="#f23645" stroke-width="0.85"/>
<rect x="655.29" y="248.0" width="2.6" height="4.4" fill="#f23645"/>
<line x1="660.52" y1="250.0" x2="660.52" y2="261.6" stroke="#f23645" stroke-width="0.85"/>
<rect x="659.22" y="251.0" width="2.6" height="8.0" fill="#f23645"/>
<line x1="664.45" y1="262.4" x2="664.45" y2="287.6" stroke="#f23645" stroke-width="0.85"/>
<rect x="663.15" y="269.0" width="2.6" height="16.0" fill="#f23645"/>
<line x1="668.37" y1="268.0" x2="668.37" y2="291.0" stroke="#089981" stroke-width="0.85"/>
<rect x="667.07" y="269.0" width="2.6" height="17.0" fill="#089981"/>
<line x1="672.30" y1="263.0" x2="672.30" y2="298.0" stroke="#089981" stroke-width="0.85"/>
<rect x="671.00" y="267.6" width="2.6" height="14.4" fill="#089981"/>
<line x1="676.23" y1="265.0" x2="676.23" y2="283.0" stroke="#f23645" stroke-width="0.85"/>
<rect x="674.93" y="266.0" width="2.6" height="10.4" fill="#f23645"/>
<line x1="680.15" y1="258.0" x2="680.15" y2="292.4" stroke="#f23645" stroke-width="0.85"/>
<rect x="678.86" y="268.0" width="2.6" height="19.0" fill="#f23645"/>
<line x1="684.08" y1="269.0" x2="684.08" y2="291.0" stroke="#089981" stroke-width="0.85"/>
<rect x="682.78" y="271.6" width="2.6" height="15.4" fill="#089981"/>
<line x1="688.01" y1="248.4" x2="688.01" y2="286.0" stroke="#f23645" stroke-width="0.85"/>
<rect x="686.71" y="248.4" width="2.6" height="33.2" fill="#f23645"/>
<line x1="691.94" y1="264.0" x2="691.94" y2="281.0" stroke="#089981" stroke-width="0.85"/>
<rect x="690.64" y="264.4" width="2.6" height="16.6" fill="#089981"/>
<line x1="695.87" y1="253.0" x2="695.87" y2="270.0" stroke="#089981" stroke-width="0.85"/>
<rect x="694.57" y="254.0" width="2.6" height="16.0" fill="#089981"/>
<line x1="699.79" y1="249.0" x2="699.79" y2="265.6" stroke="#089981" stroke-width="0.85"/>
<rect x="698.49" y="249.6" width="2.6" height="14.4" fill="#089981"/>
<line x1="703.72" y1="200.0" x2="703.72" y2="254.0" stroke="#089981" stroke-width="0.85"/>
<rect x="702.42" y="205.6" width="2.6" height="48.0" fill="#089981"/>
<line x1="707.65" y1="196.4" x2="707.65" y2="207.0" stroke="#089981" stroke-width="0.85"/>
<rect x="706.35" y="200.0" width="2.6" height="5.6" fill="#089981"/>
<line x1="711.58" y1="193.0" x2="711.58" y2="213.6" stroke="#089981" stroke-width="0.85"/>
<rect x="710.28" y="201.0" width="2.6" height="2.6" fill="#089981"/>
<line x1="715.50" y1="201.6" x2="715.50" y2="223.0" stroke="#f23645" stroke-width="0.85"/>
<rect x="714.20" y="202.0" width="2.6" height="15.6" fill="#f23645"/>
<line x1="719.43" y1="222.0" x2="719.43" y2="238.0" stroke="#089981" stroke-width="0.85"/>
<rect x="718.13" y="225.0" width="2.6" height="4.6" fill="#089981"/>
<line x1="723.36" y1="216.0" x2="723.36" y2="231.0" stroke="#089981" stroke-width="0.85"/>
<rect x="722.06" y="223.0" width="2.6" height="3.4" fill="#089981"/>
<line x1="727.28" y1="221.0" x2="727.28" y2="241.0" stroke="#089981" stroke-width="0.85"/>
<rect x="725.99" y="229.0" width="2.6" height="9.0" fill="#089981"/>
<line x1="731.21" y1="206.4" x2="731.21" y2="231.0" stroke="#089981" stroke-width="0.85"/>
<rect x="729.91" y="208.4" width="2.6" height="21.6" fill="#089981"/>
<line x1="735.14" y1="207.6" x2="735.14" y2="248.0" stroke="#f23645" stroke-width="0.85"/>
<rect x="733.84" y="208.4" width="2.6" height="34.6" fill="#f23645"/>
<line x1="739.07" y1="228.0" x2="739.07" y2="243.6" stroke="#089981" stroke-width="0.85"/>
<rect x="737.77" y="236.4" width="2.6" height="6.0" fill="#089981"/>
<line x1="743.00" y1="197.0" x2="743.00" y2="221.6" stroke="#f23645" stroke-width="0.85"/>
<rect x="741.70" y="197.6" width="2.6" height="7.4" fill="#f23645"/>
<line x1="746.92" y1="202.0" x2="746.92" y2="223.6" stroke="#f23645" stroke-width="0.85"/>
<rect x="745.62" y="204.4" width="2.6" height="14.6" fill="#f23645"/>
<line x1="750.85" y1="214.4" x2="750.85" y2="255.6" stroke="#f23645" stroke-width="0.85"/>
<rect x="749.55" y="214.4" width="2.6" height="39.2" fill="#f23645"/>
<line x1="754.78" y1="243.0" x2="754.78" y2="256.4" stroke="#089981" stroke-width="0.85"/>
<rect x="753.48" y="247.6" width="2.6" height="8.0" fill="#089981"/>
<line x1="758.71" y1="232.0" x2="758.71" y2="275.0" stroke="#f23645" stroke-width="0.85"/>
<rect x="757.41" y="248.4" width="2.6" height="14.6" fill="#f23645"/>
<line x1="762.63" y1="246.0" x2="762.63" y2="263.6" stroke="#089981" stroke-width="0.85"/>
<rect x="761.33" y="248.4" width="2.6" height="14.0" fill="#089981"/>
<line x1="766.56" y1="235.6" x2="766.56" y2="261.0" stroke="#089981" stroke-width="0.85"/>
<rect x="765.26" y="238.0" width="2.6" height="15.0" fill="#089981"/>
<line x1="770.49" y1="235.0" x2="770.49" y2="246.0" stroke="#f23645" stroke-width="0.85"/>
<rect x="769.19" y="238.0" width="2.6" height="3.0" fill="#f23645"/>
<line x1="774.41" y1="220.0" x2="774.41" y2="243.0" stroke="#089981" stroke-width="0.85"/>
<rect x="773.12" y="232.0" width="2.6" height="5.6" fill="#089981"/>
<line x1="778.34" y1="217.0" x2="778.34" y2="235.0" stroke="#089981" stroke-width="0.85"/>
<rect x="777.04" y="217.0" width="2.6" height="13.0" fill="#089981"/>
<line x1="782.27" y1="228.0" x2="782.27" y2="250.0" stroke="#f23645" stroke-width="0.85"/>
<rect x="780.97" y="229.0" width="2.6" height="20.0" fill="#f23645"/>
<line x1="786.20" y1="221.0" x2="786.20" y2="249.0" stroke="#089981" stroke-width="0.85"/>
<rect x="784.90" y="226.0" width="2.6" height="23.0" fill="#089981"/>
<line x1="790.12" y1="223.0" x2="790.12" y2="241.0" stroke="#f23645" stroke-width="0.85"/>
<rect x="788.83" y="224.0" width="2.6" height="10.0" fill="#f23645"/>
<line x1="794.05" y1="211.6" x2="794.05" y2="233.0" stroke="#089981" stroke-width="0.85"/>
<rect x="792.75" y="216.0" width="2.6" height="17.0" fill="#089981"/>
<line x1="797.98" y1="201.6" x2="797.98" y2="246.0" stroke="#f23645" stroke-width="0.85"/>
<rect x="796.68" y="208.0" width="2.6" height="8.0" fill="#f23645"/>
<line x1="801.91" y1="198.0" x2="801.91" y2="215.6" stroke="#089981" stroke-width="0.85"/>
<rect x="800.61" y="201.0" width="2.6" height="14.0" fill="#089981"/>
<line x1="805.84" y1="178.0" x2="805.84" y2="210.0" stroke="#089981" stroke-width="0.85"/>
<rect x="804.54" y="188.4" width="2.6" height="10.0" fill="#089981"/>
<line x1="809.76" y1="183.0" x2="809.76" y2="210.0" stroke="#f23645" stroke-width="0.85"/>
<rect x="808.46" y="187.0" width="2.6" height="15.0" fill="#f23645"/>
<line x1="813.69" y1="185.0" x2="813.69" y2="215.0" stroke="#f23645" stroke-width="0.85"/>
<rect x="812.39" y="185.6" width="2.6" height="20.4" fill="#f23645"/>
<line x1="817.62" y1="202.4" x2="817.62" y2="211.0" stroke="#f23645" stroke-width="0.85"/>
<rect x="816.32" y="203.6" width="2.6" height="6.8" fill="#f23645"/>
<line x1="821.54" y1="168.0" x2="821.54" y2="210.4" stroke="#089981" stroke-width="0.85"/>
<rect x="820.25" y="171.0" width="2.6" height="39.0" fill="#089981"/>
<line x1="825.47" y1="144.0" x2="825.47" y2="172.4" stroke="#089981" stroke-width="0.85"/>
<rect x="824.17" y="145.6" width="2.6" height="26.8" fill="#089981"/>
<line x1="829.40" y1="106.0" x2="829.40" y2="158.4" stroke="#f23645" stroke-width="1.15"/>
<rect x="828.10" y="139.6" width="2.6" height="18.8" fill="#f23645"/>
<line x1="833.33" y1="159.0" x2="833.33" y2="201.6" stroke="#f23645" stroke-width="0.85"/>
<rect x="832.03" y="159.0" width="2.6" height="29.0" fill="#f23645"/>
<line x1="837.25" y1="163.0" x2="837.25" y2="197.0" stroke="#f23645" stroke-width="0.85"/>
<rect x="835.96" y="177.0" width="2.6" height="19.4" fill="#f23645"/>
<line x1="841.18" y1="191.0" x2="841.18" y2="205.6" stroke="#f23645" stroke-width="0.85"/>
<rect x="839.88" y="196.4" width="2.6" height="7.6" fill="#f23645"/>
<line x1="845.11" y1="189.6" x2="845.11" y2="227.0" stroke="#f23645" stroke-width="0.85"/>
<rect x="843.81" y="197.0" width="2.6" height="17.0" fill="#f23645"/>
<line x1="849.04" y1="212.0" x2="849.04" y2="222.4" stroke="#089981" stroke-width="0.85"/>
<rect x="847.74" y="213.0" width="2.6" height="1.4" fill="#089981"/>
<line x1="852.97" y1="202.0" x2="852.97" y2="239.6" stroke="#089981" stroke-width="0.85"/>
<rect x="851.67" y="216.4" width="2.6" height="4.6" fill="#089981"/>
<line x1="856.89" y1="214.4" x2="856.89" y2="239.6" stroke="#f23645" stroke-width="0.85"/>
<rect x="855.59" y="218.0" width="2.6" height="15.0" fill="#f23645"/>
<line x1="860.82" y1="216.0" x2="860.82" y2="234.4" stroke="#089981" stroke-width="0.85"/>
<rect x="859.52" y="223.0" width="2.6" height="10.6" fill="#089981"/>
<line x1="864.75" y1="209.6" x2="864.75" y2="230.0" stroke="#089981" stroke-width="0.85"/>
<rect x="863.45" y="210.0" width="2.6" height="2.0" fill="#089981"/>
<line x1="868.68" y1="199.0" x2="868.68" y2="211.0" stroke="#089981" stroke-width="0.85"/>
<rect x="867.38" y="208.4" width="2.6" height="2.0" fill="#089981"/>
<line x1="872.60" y1="200.0" x2="872.60" y2="227.0" stroke="#089981" stroke-width="0.85"/>
<rect x="871.30" y="205.0" width="2.6" height="7.0" fill="#089981"/>
<line x1="876.53" y1="190.0" x2="876.53" y2="206.0" stroke="#089981" stroke-width="0.85"/>
<rect x="875.23" y="192.0" width="2.6" height="13.6" fill="#089981"/>
<line x1="880.46" y1="163.0" x2="880.46" y2="184.4" stroke="#f23645" stroke-width="0.85"/>
<rect x="879.16" y="173.0" width="2.6" height="1.2" fill="#f23645"/>
<line x1="884.38" y1="161.6" x2="884.38" y2="179.0" stroke="#089981" stroke-width="0.85"/>
<rect x="883.09" y="165.6" width="2.6" height="8.4" fill="#089981"/>
<line x1="888.31" y1="95.0" x2="888.31" y2="149.0" stroke="#089981" stroke-width="0.85"/>
<rect x="887.01" y="114.4" width="2.6" height="34.6" fill="#089981"/>
<line x1="892.24" y1="107.0" x2="892.24" y2="120.0" stroke="#089981" stroke-width="0.85"/>
<rect x="890.94" y="108.0" width="2.6" height="6.4" fill="#089981"/>
<line x1="896.17" y1="77.6" x2="896.17" y2="120.0" stroke="#089981" stroke-width="0.85"/>
<rect x="894.87" y="84.6" width="2.6" height="12.4" fill="#089981"/>
<line x1="900.10" y1="80.0" x2="900.10" y2="94.0" stroke="#089981" stroke-width="0.85"/>
<rect x="898.80" y="81.0" width="2.6" height="6.0" fill="#089981"/>
<line x1="904.02" y1="67.0" x2="904.02" y2="92.0" stroke="#089981" stroke-width="0.85"/>
<rect x="902.72" y="75.6" width="2.6" height="2.4" fill="#089981"/>
<line x1="907.95" y1="65.0" x2="907.95" y2="80.6" stroke="#f23645" stroke-width="0.85"/>
<rect x="906.65" y="75.8" width="2.6" height="3.0" fill="#f23645"/>
<line x1="911.88" y1="44.0" x2="911.88" y2="62.0" stroke="#089981" stroke-width="0.85"/>
<rect x="910.58" y="53.0" width="2.6" height="8.6" fill="#089981"/>
<line x1="915.81" y1="30.8" x2="915.81" y2="52.0" stroke="#089981" stroke-width="0.85"/>
<rect x="914.51" y="31.0" width="2.6" height="20.6" fill="#089981"/>
<line x1="919.73" y1="28.4" x2="919.73" y2="92.4" stroke="#f23645" stroke-width="1.15"/>
<rect x="918.43" y="55.0" width="2.6" height="30.0" fill="#f23645"/>
<line x1="923.66" y1="73.6" x2="923.66" y2="102.5" stroke="#f23645" stroke-width="0.85"/>
<rect x="922.36" y="83.0" width="2.6" height="18.5" fill="#f23645"/>
<line x1="927.59" y1="86.6" x2="927.59" y2="159.6" stroke="#f23645" stroke-width="1.15"/>
<rect x="926.29" y="104.0" width="2.6" height="45.0" fill="#f23645"/>
<line x1="931.51" y1="141.0" x2="931.51" y2="174.4" stroke="#089981" stroke-width="0.85"/>
<rect x="930.22" y="147.0" width="2.6" height="3.0" fill="#089981"/>
<line x1="935.44" y1="135.0" x2="935.44" y2="163.0" stroke="#089981" stroke-width="0.85"/>
<rect x="934.14" y="141.0" width="2.6" height="7.4" fill="#089981"/>
<line x1="939.37" y1="139.0" x2="939.37" y2="157.6" stroke="#f23645" stroke-width="0.85"/>
<rect x="938.07" y="144.4" width="2.6" height="12.6" fill="#f23645"/>
<line x1="943.30" y1="107.0" x2="943.30" y2="148.0" stroke="#089981" stroke-width="0.85"/>
<rect x="942.00" y="108.0" width="2.6" height="40.0" fill="#089981"/>
<line x1="947.23" y1="90.5" x2="947.23" y2="115.0" stroke="#089981" stroke-width="0.85"/>
<rect x="945.93" y="100.5" width="2.6" height="9.5" fill="#089981"/>
</g>
<path d="M83.175,435.9 L90.375,440.3 L90.375,450.2 Q90.375,451.4 89.175,451.4 L77.175,451.4 Q75.975,451.4 75.975,450.2 L75.975,440.3 Z" fill="#fff" stroke="#089981" stroke-width="1.55" stroke-linejoin="round"/>
<path d="M85.375,441.3 H81.725 V447.5 H85.475 M81.725,444.3 H84.875" fill="none" stroke="#089981" stroke-width="1.15"/>
<path d="M460.21500000000003,435.9 L467.415,440.3 L467.415,450.2 Q467.415,451.4 466.21500000000003,451.4 L454.21500000000003,451.4 Q453.01500000000004,451.4 453.01500000000004,450.2 L453.01500000000004,440.3 Z" fill="#fff" stroke="#089981" stroke-width="1.55" stroke-linejoin="round"/>
<path d="M462.415,441.3 H458.76500000000004 V447.5 H462.51500000000004 M458.76500000000004,444.3 H461.915" fill="none" stroke="#089981" stroke-width="1.15"/>
<path d="M946.6975,436 A8.9,8.9 0 0 1 951.5975,451.8" fill="none" stroke="#a52fc6" stroke-width="1.2"/>
<circle cx="952.9975000000001" cy="438.6" r="3.1" fill="#fff"/>
<path d="M943.2975,435.9 L950.4975000000001,440.3 L950.4975000000001,450.2 Q950.4975000000001,451.4 949.2975,451.4 L937.2975,451.4 Q936.0975,451.4 936.0975,450.2 L936.0975,440.3 Z" fill="#fff" stroke="#089981" stroke-width="1.55" stroke-linejoin="round"/>
<path d="M945.4975000000001,441.3 H941.8475 V447.5 H945.5975 M941.8475,444.3 H944.9975000000001" fill="none" stroke="#089981" stroke-width="1.15"/>
<circle cx="952.9975000000001" cy="438.6" r="2.05" fill="#f23645"/>
<text transform="translate(8.4,15.6) scale(0.9774,1)" x="0" y="0" font-size="10" fill="#2b2e39" text-anchor="start" font-weight="normal">decentTruffle68182 published on TradingView.com, Jul 23, 2024 18:31 UTC+5:30</text>
<text transform="translate(14.6,37.6) scale(0.9404,1)" x="0" y="0" font-size="10.1" fill="#2b2e39" text-anchor="start" font-weight="normal">Medpace Holdings, Inc., 4h, NASDAQ</text>
<text transform="translate(181.9,37.6) scale(0.6871,1)" x="0" y="0" font-size="10.1" fill="#2b2e39" text-anchor="start" font-weight="normal">O</text>
<text transform="translate(187,37.6) scale(0.9522,1)" x="0" y="0" font-size="10.1" fill="#089981" text-anchor="start" font-weight="normal">434.90</text>
<text transform="translate(223.3,37.6) scale(0.7400,1)" x="0" y="0" font-size="10.1" fill="#2b2e39" text-anchor="start" font-weight="normal">H</text>
<text transform="translate(229.6,37.6) scale(0.9198,1)" x="0" y="0" font-size="10.1" fill="#089981" text-anchor="start" font-weight="normal">440.57</text>
<text transform="translate(265.3,37.6) scale(0.6756,1)" x="0" y="0" font-size="10.1" fill="#2b2e39" text-anchor="start" font-weight="normal">L</text>
<text transform="translate(269,37.6) scale(0.9522,1)" x="0" y="0" font-size="10.1" fill="#089981" text-anchor="start" font-weight="normal">433.34</text>
<text transform="translate(305.3,37.6) scale(0.6578,1)" x="0" y="0" font-size="10.1" fill="#2b2e39" text-anchor="start" font-weight="normal">C</text>
<text transform="translate(310.4,37.6) scale(0.9457,1)" x="0" y="0" font-size="10.1" fill="#089981" text-anchor="start" font-weight="normal">437.50</text>
<text transform="translate(346,37.6) scale(0.9139,1)" x="0" y="0" font-size="10.1" fill="#089981" text-anchor="start" font-weight="normal">+2.06 (+0.47%)</text>
<text transform="translate(14.6,51.6) scale(0.9343,1)" x="0" y="0" font-size="10.1" fill="#2b2e39" text-anchor="start" font-weight="normal">BB (20, SMA, close, 2)</text>
<text transform="translate(117,51.6) scale(0.9263,1)" x="0" y="0" font-size="10.1" fill="#ff6d00" text-anchor="start" font-weight="normal">432.60</text>
<text transform="translate(152.4,51.6) scale(0.9263,1)" x="0" y="0" font-size="10.1" fill="#2962ff" text-anchor="start" font-weight="normal">459.56</text>
<text transform="translate(187,51.6) scale(0.9393,1)" x="0" y="0" font-size="10.1" fill="#2962ff" text-anchor="start" font-weight="normal">405.64</text>
<text x="1025" y="79.8" font-size="10.4" fill="#2a1a8a" text-anchor="middle" font-weight="bold">SL</text>
<text x="1029.5" y="248.2" font-size="10.4" fill="#2a1a8a" text-anchor="middle" font-weight="bold">TP1</text>
<text x="1029.5" y="327.6" font-size="10.4" fill="#2a1a8a" text-anchor="middle" font-weight="bold">TP2</text>
<text transform="translate(1125.6,62.1) scale(0.9263,1)" x="0" y="0" font-size="10.1" fill="#2b2e39" text-anchor="start" font-weight="normal">450.00</text>
<text transform="translate(1125.6,96.0) scale(0.9263,1)" x="0" y="0" font-size="10.1" fill="#2b2e39" text-anchor="start" font-weight="normal">440.00</text>
<text transform="translate(1125.6,130.0) scale(0.9263,1)" x="0" y="0" font-size="10.1" fill="#2b2e39" text-anchor="start" font-weight="normal">430.00</text>
<text transform="translate(1125.6,164.0) scale(0.9263,1)" x="0" y="0" font-size="10.1" fill="#2b2e39" text-anchor="start" font-weight="normal">420.00</text>
<text transform="translate(1125.6,197.9) scale(0.9263,1)" x="0" y="0" font-size="10.1" fill="#2b2e39" text-anchor="start" font-weight="normal">410.00</text>
<text transform="translate(1125.6,231.9) scale(0.9263,1)" x="0" y="0" font-size="10.1" fill="#2b2e39" text-anchor="start" font-weight="normal">400.00</text>
<text transform="translate(1125.6,265.8) scale(0.9263,1)" x="0" y="0" font-size="10.1" fill="#2b2e39" text-anchor="start" font-weight="normal">390.00</text>
<text transform="translate(1125.6,367.70000000000005) scale(0.9263,1)" x="0" y="0" font-size="10.1" fill="#2b2e39" text-anchor="start" font-weight="normal">360.00</text>
<text transform="translate(1125.6,401.6) scale(0.9263,1)" x="0" y="0" font-size="10.1" fill="#2b2e39" text-anchor="start" font-weight="normal">350.00</text>
<text transform="translate(1125.6,435.6) scale(0.9263,1)" x="0" y="0" font-size="10.1" fill="#2b2e39" text-anchor="start" font-weight="normal">340.00</text>
<rect x="1121.2" y="26" width="37.2" height="20.4" rx="2.5" fill="#fff" stroke="#e0e3eb" stroke-width="1"/>
<text transform="translate(1128.5,39.7) scale(0.8411,1)" x="0" y="0" font-size="9.8" fill="#2b2e39" text-anchor="start" font-weight="normal">USD</text>
<rect x="1117.6" y="73" width="41.0" height="13.599999999999994" rx="1.5" fill="#f23645"/>
<text transform="translate(1125.6,83.39999999999999) scale(0.9263,1)" x="0" y="0" font-size="10.1" fill="#fff" text-anchor="start" font-weight="normal" stroke="#fff" stroke-width="0.3">443.86</text>
<rect x="1117.6" y="94" width="41.0" height="13.599999999999994" rx="1.5" fill="#089981"/>
<text transform="translate(1125.6,104.39999999999999) scale(0.9263,1)" x="0" y="0" font-size="10.1" fill="#fff" text-anchor="start" font-weight="normal" stroke="#fff" stroke-width="0.3">437.50</text>
<rect x="1117.6" y="111.3" width="41.0" height="13.700000000000003" rx="1.5" fill="#ff6d00"/>
<text transform="translate(1125.6,121.75) scale(0.9263,1)" x="0" y="0" font-size="10.1" fill="#fff" text-anchor="start" font-weight="normal" stroke="#fff" stroke-width="0.3">432.60</text>
<rect x="1117.6" y="162" width="41.0" height="13.400000000000006" rx="1.5" fill="#787b86"/>
<text transform="translate(1125.6,172.29999999999998) scale(0.9263,1)" x="0" y="0" font-size="10.1" fill="#fff" text-anchor="start" font-weight="normal" stroke="#fff" stroke-width="0.3">417.67</text>
<rect x="1117.6" y="202.4" width="41.0" height="13.599999999999994" rx="1.5" fill="#2962ff"/>
<text transform="translate(1125.6,212.79999999999998) scale(0.9263,1)" x="0" y="0" font-size="10.1" fill="#fff" text-anchor="start" font-weight="normal" stroke="#fff" stroke-width="0.3">405.64</text>
<rect x="1117.6" y="241.6" width="41.0" height="13.800000000000011" rx="1.5" fill="#b22833"/>
<text transform="translate(1125.6,252.1) scale(0.9263,1)" x="0" y="0" font-size="10.1" fill="#fff" text-anchor="start" font-weight="normal" stroke="#fff" stroke-width="0.3">394.13</text>
<rect x="1117.6" y="289.8" width="41.0" height="14.0" rx="1.5" fill="#fb8c00"/>
<text transform="translate(1125.6,300.40000000000003) scale(0.9263,1)" x="0" y="0" font-size="10.1" fill="#fff" text-anchor="start" font-weight="normal" stroke="#fff" stroke-width="0.3">379.99</text>
<path d="M1096.5,289.8 H1116.9 V303.8 H1096.5 Q1095,303.8 1095,302.3 V291.3 Q1095,289.8 1096.5,289.8 Z" fill="#fb8c00"/>
<text transform="translate(1098.8,300.4) scale(0.9236,1)" x="0" y="0" font-size="9.9" fill="#fff" text-anchor="start" font-weight="normal" stroke="#fff" stroke-width="0.3">Pre</text>
<rect x="1117.6" y="321.8" width="41.0" height="13.5" rx="1.5" fill="#089981"/>
<text transform="translate(1125.6,332.15000000000003) scale(0.9263,1)" x="0" y="0" font-size="10.1" fill="#fff" text-anchor="start" font-weight="normal" stroke="#fff" stroke-width="0.3">370.59</text>
<rect x="1117.6" y="335.6" width="41.0" height="13.599999999999966" rx="1.5" fill="#b22833"/>
<text transform="translate(1125.6,346.0) scale(0.9263,1)" x="0" y="0" font-size="10.1" fill="#fff" text-anchor="start" font-weight="normal" stroke="#fff" stroke-width="0.3">370.59</text>
<text x="24" y="469.2" font-size="9.6" fill="#2b2e39" text-anchor="middle" font-weight="normal">Feb</text>
<text x="94.6" y="469.2" font-size="9.6" fill="#2b2e39" text-anchor="middle" font-weight="normal">14</text>
<text x="181.4" y="469.2" font-size="9.6" fill="#2b2e39" text-anchor="middle" font-weight="normal">Mar</text>
<text x="271.4" y="469.2" font-size="9.6" fill="#2b2e39" text-anchor="middle" font-weight="normal">18</text>
<text x="342.4" y="469.2" font-size="9.6" fill="#2b2e39" text-anchor="middle" font-weight="normal">Apr</text>
<text x="420.6" y="469.2" font-size="9.6" fill="#2b2e39" text-anchor="middle" font-weight="normal">15</text>
<text x="515.4" y="469.2" font-size="9.6" fill="#2b2e39" text-anchor="middle" font-weight="normal">May</text>
<text x="617.6" y="469.2" font-size="9.6" fill="#2b2e39" text-anchor="middle" font-weight="normal">20</text>
<text x="687.6" y="469.2" font-size="9.6" fill="#2b2e39" text-anchor="middle" font-weight="normal">Jun</text>
<text x="766.6" y="469.2" font-size="9.6" fill="#2b2e39" text-anchor="middle" font-weight="normal">17</text>
<text x="837.6" y="469.2" font-size="9.6" fill="#2b2e39" text-anchor="middle" font-weight="normal">Jul</text>
<text x="904.6" y="469.2" font-size="9.6" fill="#2b2e39" text-anchor="middle" font-weight="normal">15</text>
<text x="1006.6" y="469.2" font-size="9.6" fill="#2b2e39" text-anchor="middle" font-weight="normal">Aug</text>
<text x="1100.6" y="469.2" font-size="9.6" fill="#2b2e39" text-anchor="middle" font-weight="normal">19</text>
<g fill="#131722"><path d="M8.1,487.3 H14.5 V494.9 H10.8 V490.5 H8.1 Z"/><circle cx="16.9" cy="488.8" r="1.45"/><path d="M19.2,487.3 H23.9 L20.6,494.9 H16.4 Z"/></g>
<text transform="translate(26.9,494.9) scale(1.0853,1)" x="0" y="0" font-size="9.6" fill="#3c404c" text-anchor="start" font-weight="normal">TradingView</text>
</g></svg></body></html>
